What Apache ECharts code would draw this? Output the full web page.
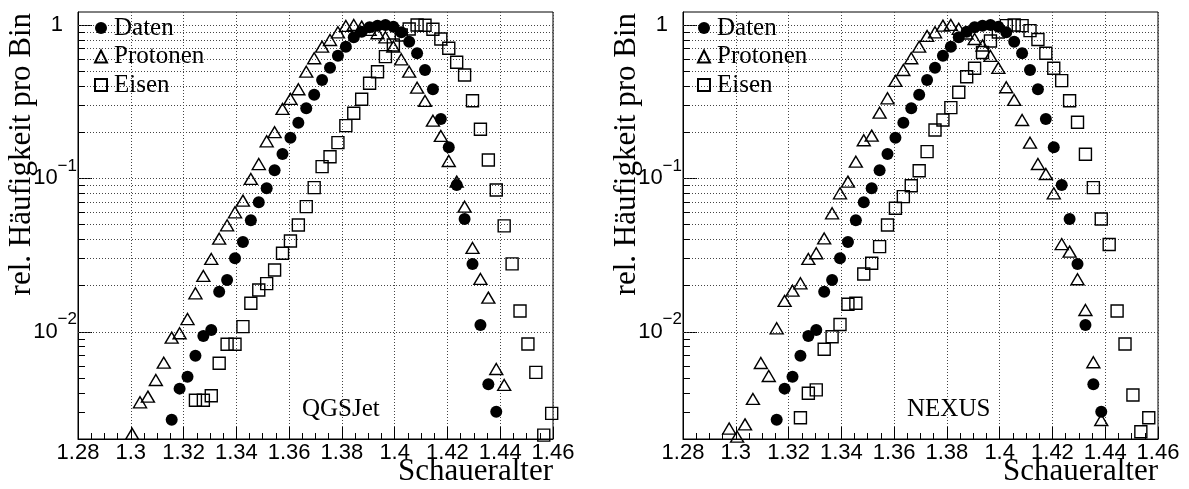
<!DOCTYPE html>
<html>
<head>
<meta charset="utf-8">
<script src="https://cdn.jsdelivr.net/npm/echarts@6/dist/echarts.min.js"></script>
<style>html,body{margin:0;padding:0;background:#fff}#c{width:1189px;height:489px}</style>
</head>
<body>
<div id="c"></div>
<script>
// Bin centres (Schaueralter)
const binCenters = [1.2975,1.3005,1.3035,1.3065,1.3095,1.3125,1.3155,1.3185,1.3215,1.3245,
 1.3275,1.3305,1.3335,1.3365,1.3395,1.3425,1.3455,1.3485,1.3515,1.3545,
 1.3575,1.3605,1.3635,1.3665,1.3695,1.3725,1.3755,1.3785,1.3815,1.3845,
 1.3875,1.3905,1.3935,1.3965,1.3995,1.4025,1.4055,1.4085,1.4115,1.4145,
 1.4175,1.4205,1.4235,1.4265,1.4295,1.4325,1.4355,1.4385,1.4415,1.4445,
 1.4475,1.4505,1.4535,1.4565,1.4595];

const daten = [null,null,null,null,null,null,0.00267,0.00426,0.0051,0.00699,
 0.00939,0.01027,0.01825,0.02178,0.03013,0.03848,0.05333,0.06985,0.0861,0.1129,
 0.1442,0.1842,0.2308,0.2864,0.3514,0.438,0.527,0.631,0.722,0.831,
 0.904,0.966,0.99,1.0,0.975,0.896,0.778,0.654,0.509,0.381,
 0.244,0.1595,0.0906,0.0544,0.0277,0.01107,0.00455,0.00301,null,null,
 null,null,null,null,null];

const protonenQGSJet = [null,0.00216,0.00347,0.00378,0.00485,0.00629,0.00916,0.00978,0.01211,0.01782,
 0.02311,0.02985,0.04045,0.04943,0.0601,0.0716,0.0991,0.124,0.1745,0.2,
 0.2834,0.3296,0.381,0.496,0.607,0.722,0.798,0.896,0.985,1.0,
 0.975,0.93,0.883,0.831,0.722,0.5975,0.496,0.39,0.3196,0.2377,
 0.189,0.1298,0.0952,0.0654,0.0352,0.0221,0.0167,0.00572,0.0045,null,
 null,null,null,null,null];

const eisenQGSJet = [null,null,null,null,null,null,null,null,0.0019,0.00358,
 0.00358,0.00383,0.00623,0.00829,0.00829,0.0108,0.01534,0.01873,0.0206,0.0253,
 0.0325,0.0391,0.0497,0.0654,0.087,0.1192,0.1385,0.1709,0.2206,0.2657,
 0.328,0.417,0.496,0.6215,0.741,0.86,0.942,1.0,0.995,0.937,
 0.81,0.705,0.571,0.472,0.321,0.209,0.1318,0.084,0.049,0.0277,
 0.01367,0.00833,0.00544,0.00212,0.00294];

const protonenNEXUS = [0.00234,0.00207,0.00249,0.00365,0.00626,0.00515,0.01054,0.01588,0.01853,0.0207,
 0.02985,0.0325,0.0406,0.0592,0.0799,0.0952,0.1285,0.1772,0.1899,0.268,
 0.3327,0.4315,0.5087,0.6067,0.722,0.848,0.896,0.99,1.0,0.944,
 0.88,0.81,0.735,0.628,0.5245,0.3926,0.3245,0.2402,0.1709,0.1241,
 0.1068,0.0799,0.0373,0.0333,0.022,0.01387,0.00633,0.00266,null,null,
 null,null,null,null,null];

const eisenNEXUS = [null,null,null,null,null,null,null,null,null,0.00275,
 0.00397,0.00418,0.00769,0.00929,0.01116,0.0151,0.01534,0.0238,0.028,0.0359,
 0.0497,0.0638,0.076,0.0896,0.1122,0.1493,0.2068,0.2402,0.289,0.364,
 0.46,0.522,0.6617,0.7865,0.9,0.99,1.0,0.99,0.918,0.804,
 0.654,0.522,0.4335,0.321,0.232,0.1436,0.087,0.0544,0.0371,0.01367,
 0.00833,0.00387,0.00223,0.00275,null];

const seriesNames = ['Daten', 'Protonen', 'Eisen'];
const modelNames = ['QGSJet', 'NEXUS'];
const xTitle = 'Schaueralter';
const yTitle = 'rel. Häufigkeit pro Bin';
// log-axis grid values (1..9 x decade)
const logGridValues = [0.003,0.004,0.005,0.006,0.007,0.008,0.009,
 0.01,0.02,0.03,0.04,0.05,0.06,0.07,0.08,0.09,
 0.1,0.2,0.3,0.4,0.5,0.6,0.7,0.8,0.9,1];
const decades = [0.01, 0.1, 1];

const SERIF = '"Liberation Serif","Times New Roman",serif';
const SANS = '"Liberation Sans",Arial,sans-serif';

function pairs(ys) {
  const out = [];
  binCenters.forEach((x, i) => { if (ys[i] != null) out.push([x, ys[i]]); });
  return out;
}

const gridLefts = [78, 683];
const gridTop = 12, gridW = 475, gridH = 427;
const Y_MIN = 0.002, Y_MAX = 1.215, X_MIN = 1.28, X_MAX = 1.46;

function xAxisFor(i) {
  return {
    type: 'value', gridIndex: i, min: X_MIN, max: X_MAX, interval: 0.02,
    axisLine: { show: true, onZero: false, lineStyle: { color: '#000', width: 1 } },
    axisTick: { show: true, inside: true, length: 12, lineStyle: { color: '#000' } },
    minorTick: { show: true, splitNumber: 4, length: 6, lineStyle: { color: '#000' } },
    axisLabel: { margin: 3, color: '#000', fontFamily: SANS, fontSize: 22,
      formatter: v => String(+v.toFixed(2)) },
    splitLine: { show: true, lineStyle: { color: '#444', type: [1, 2], width: 1 } }
  };
}
function yAxisFor(i) {
  return {
    type: 'log', logBase: 10, gridIndex: i, min: Y_MIN, max: Y_MAX, splitNumber: 3,
    axisLine: { show: true, lineStyle: { color: '#000', width: 1 } },
    axisTick: { show: true, inside: true, length: 14, lineStyle: { color: '#000' } },
    splitLine: { show: false },
    axisLabel: {
      margin: 1, color: '#000', fontFamily: SANS, fontSize: 22, showMinLabel: false, showMaxLabel: false,
      formatter: v => {
        const e = Math.round(Math.log10(v));
        if (Math.abs(Math.log10(v) - e) > 1e-6) return '';
        if (e === 0) return '{one|1}';
        return '{base|10}{expo|\u2212' + (-e) + '}';
      },
      rich: {
        one: { fontFamily: SANS, fontSize: 22, color: '#000', padding: [0, 14, 0, 0] },
        base: { fontFamily: SANS, fontSize: 22, color: '#000', padding: [10, 0, 10, 0], verticalAlign: 'bottom' },
        expo: { fontFamily: SANS, fontSize: 17, color: '#000', verticalAlign: 'top' }
      }
    }
  };
}

const gridLines = logGridValues.filter(v => v < 1.0001).map(v => ({ yAxis: v }));
const minorTicks = logGridValues.filter(v => decades.indexOf(v) < 0)
  .map(v => [{ coord: [X_MIN, v] }, { coord: [X_MIN + 0.00265, v] }]);

const series = [];
[[protonenQGSJet, eisenQGSJet], [protonenNEXUS, eisenNEXUS]].forEach((pair, gi) => {
  series.push({
    type: 'scatter', name: '_grid' + gi, xAxisIndex: gi, yAxisIndex: gi, data: [], z: 1,
    silent: true,
    markLine: {
      silent: true, symbol: 'none', z: 1, animation: false,
      label: { show: false },
      lineStyle: { color: '#444', type: [1, 2], width: 1 },
      emphasis: { disabled: true },
      data: gridLines
    }
  });
  series.push({
    type: 'scatter', name: '_ticks' + gi, xAxisIndex: gi, yAxisIndex: gi, data: [], z: 1,
    silent: true,
    markLine: {
      silent: true, symbol: 'none', z: 2, animation: false,
      label: { show: false },
      lineStyle: { color: '#000', type: 'solid', width: 1 },
      emphasis: { disabled: true },
      data: minorTicks
    }
  });
  series.push({
    type: 'scatter', name: 'Eisen', xAxisIndex: gi, yAxisIndex: gi, z: 3,
    symbol: 'rect', symbolSize: 12,
    itemStyle: { color: 'rgba(255,255,255,0)', borderColor: '#000', borderWidth: 1.4, opacity: 1 },
    emphasis: { disabled: true },
    data: pairs(pair[1])
  });
  series.push({
    type: 'scatter', name: 'Protonen', xAxisIndex: gi, yAxisIndex: gi, z: 3,
    symbol: 'triangle', symbolSize: [13, 11],
    itemStyle: { color: 'rgba(255,255,255,0)', borderColor: '#000', borderWidth: 1.4, opacity: 1 },
    emphasis: { disabled: true },
    data: pairs(pair[0])
  });
  series.push({
    type: 'scatter', name: 'Daten', xAxisIndex: gi, yAxisIndex: gi, z: 4,
    symbol: 'circle', symbolSize: 12,
    itemStyle: { color: '#000', opacity: 1 },
    emphasis: { disabled: true },
    data: pairs(daten)
  });
});

function legendFor(left) {
  return {
    left: left, top: 14, orient: 'vertical', padding: 0, itemGap: 0.5,
    itemWidth: 12, itemHeight: 12, selectedMode: false,
    data: seriesNames,
    textStyle: { fontFamily: SERIF, fontSize: 25, lineHeight: 28, color: '#000', padding: [0, 0, 0, 2] }
  };
}

const graphic = [];
gridLefts.forEach((gl, gi) => {
  graphic.push({ type: 'text', x: gl - 56, y: 13, rotation: Math.PI / 2, silent: true,
    style: { text: yTitle, font: '31px ' + SERIF, fill: '#000', align: 'right', verticalAlign: 'middle' } });
  graphic.push({ type: 'text', x: gl + gridW, y: 472, silent: true,
    style: { text: xTitle, font: '31px ' + SERIF, fill: '#000', align: 'right', verticalAlign: 'middle' } });
  graphic.push({ type: 'text', x: gl + 224, y: 409, silent: true,
    style: { text: modelNames[gi], font: '25px ' + SERIF, fill: '#000', align: 'left', verticalAlign: 'middle' } });
});

const chart = echarts.init(document.getElementById('c'), null, { renderer: 'canvas' });
chart.setOption({
  animation: false,
  backgroundColor: '#fff',
  grid: gridLefts.map(l => ({ left: l, top: gridTop, width: gridW, height: gridH,
    show: true, borderColor: '#000', borderWidth: 1, backgroundColor: 'transparent' })),
  xAxis: [xAxisFor(0), xAxisFor(1)],
  yAxis: [yAxisFor(0), yAxisFor(1)],
  legend: [legendFor(94), legendFor(697)],
  series: series,
  graphic: graphic
});
</script>
</body>
</html>
